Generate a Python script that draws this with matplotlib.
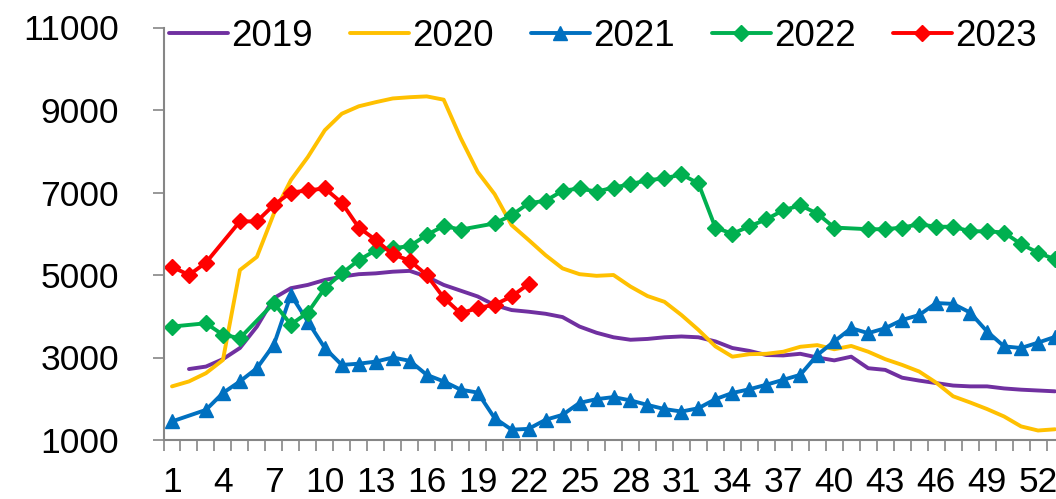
import numpy as np
import matplotlib
matplotlib.use("Agg")
import matplotlib.pyplot as plt

plt.rcParams['font.family'] = ['Liberation Sans', 'DejaVu Sans']

weeks = list(range(1, 54))
y2019 = [None, 2720, 2780, 2960, 3230, 3750, 4440, 4680, 4760, 4880, 4960, 5020, 5040, 5080, 5100, 4960,
         4760, 4620, 4480, 4270, 4150, 4110, 4060, 3980, 3750, 3600, 3490, 3430, 3450, 3490, 3510, 3490,
         3390, 3230, 3160, 3060, 3050, 3090, 3000, 2930, 3020, 2740, 2700, 2510, 2440, 2380, 2320, 2300,
         2300, 2250, 2220, 2200, 2180]
y2020 = [2300, 2420, 2620, 2940, 5120, 5440, 6490, 7300, 7860, 8510, 8910, 9090, 9190, 9280, 9310, 9330,
         9250, 8320, 7500, 6960, 6210, 5850, 5480, 5160, 5020, 4980, 5000, 4720, 4490, 4350, 4030, 3670,
         3270, 3020, 3080, 3090, 3140, 3260, 3300, 3200, 3280, 3140, 2960, 2820, 2660, 2390, 2060, 1910,
         1750, 1570, 1330, 1230, 1260]
y2021 = [1450, None, 1730, 2140, 2420, 2740, 3310, 4520, 3870, 3230, 2820, 2850, 2900, 3000, 2920, 2580,
         2420, 2220, 2150, 1530, 1250, 1270, 1490, 1610, 1900, 1990, 2040, 1960, 1850, 1750, 1690, 1770,
         1990, 2140, 2230, 2340, 2460, 2580, 3060, 3390, 3710, 3590, 3710, 3910, 4030, 4320, 4300, 4090,
         3630, 3270, 3230, 3360, 3500]
y2022 = [3750, None, 3830, 3550, 3470, None, 4320, 3800, 4090, 4680, 5040, 5360, 5600, 5650, 5700, 5970,
         6190, 6100, None, 6250, 6450, 6740, 6800, 7040, 7100, 7020, 7120, 7200, 7300, 7340, 7440, 7220,
         6150, 6000, 6180, 6350, 6570, 6690, 6490, 6150, None, 6110, 6110, 6150, 6230, 6170, 6170, 6060,
         6060, 6030, 5750, 5540, 5380]
y2023 = [5200, 5000, 5300, None, 6300, 6300, 6700, 7000, 7050, 7100, 6750, 6150, 5850, 5500, 5350, 5000,
         4450, 4070, 4200, 4280, 4480, 4780]
labels = ["2019", "2020", "2021", "2022", "2023"]
colors = ["#7030A0", "#FFC000", "#0070C0", "#00B050", "#FF0000"]
markers = [None, None, "^", "D", "D"]
tick_weeks = list(range(1, 53, 3))

fig = plt.figure(figsize=(10.56, 4.99), dpi=100)
# plot area runs past the right edge of the picture, as in the reference crop
ax = fig.add_axes([163.5/1056, 59/499, 900/1056, 412.5/499])

for vals, lab, c, m in zip([y2019, y2020, y2021, y2022, y2023], labels, colors, markers):
    x = np.array(weeks[:len(vals)], float)
    v = np.array([np.nan if a is None else a for a in vals], float)
    ok = ~np.isnan(v)  # gaps are bridged, like Excel's "connect points"
    ax.plot(x[ok], v[ok], color=c, lw=2.8, marker=m, ms=(10 if m == "^" else 8.5),
            solid_joinstyle="round", solid_capstyle="round", label=lab)

ax.set_xlim(0.5, 53.5)
ax.set_ylim(1000, 11000)
ax.set_yticks(range(1000, 11001, 2000))
ax.set_xticks(np.arange(0.5, 54, 1))
ax.set_xticklabels([])
ax.set_xticks(tick_weeks, minor=True)
ax.set_xticklabels([str(w) for w in tick_weeks], minor=True)
ax.tick_params(axis="x", which="major", length=8, width=1.2, color="#868686", direction="out")
ax.tick_params(axis="x", which="minor", length=0, pad=19, labelsize=25.5)
ax.tick_params(axis="y", length=8, width=1.2, color="#868686", direction="out", pad=24, labelsize=25.5)
for s in ["top", "right"]:
    ax.spines[s].set_visible(False)
for s in ["left", "bottom"]:
    ax.spines[s].set_color("#868686")
    ax.spines[s].set_linewidth(1.5)

fig.legend(loc="center", bbox_to_anchor=(603/1056, 1 - 36/499), ncol=5, frameon=False, fontsize=26.5,
           handlelength=1.6, handletextpad=0.1, columnspacing=1.0, borderpad=0)

fig.savefig("out.png", dpi=100)
